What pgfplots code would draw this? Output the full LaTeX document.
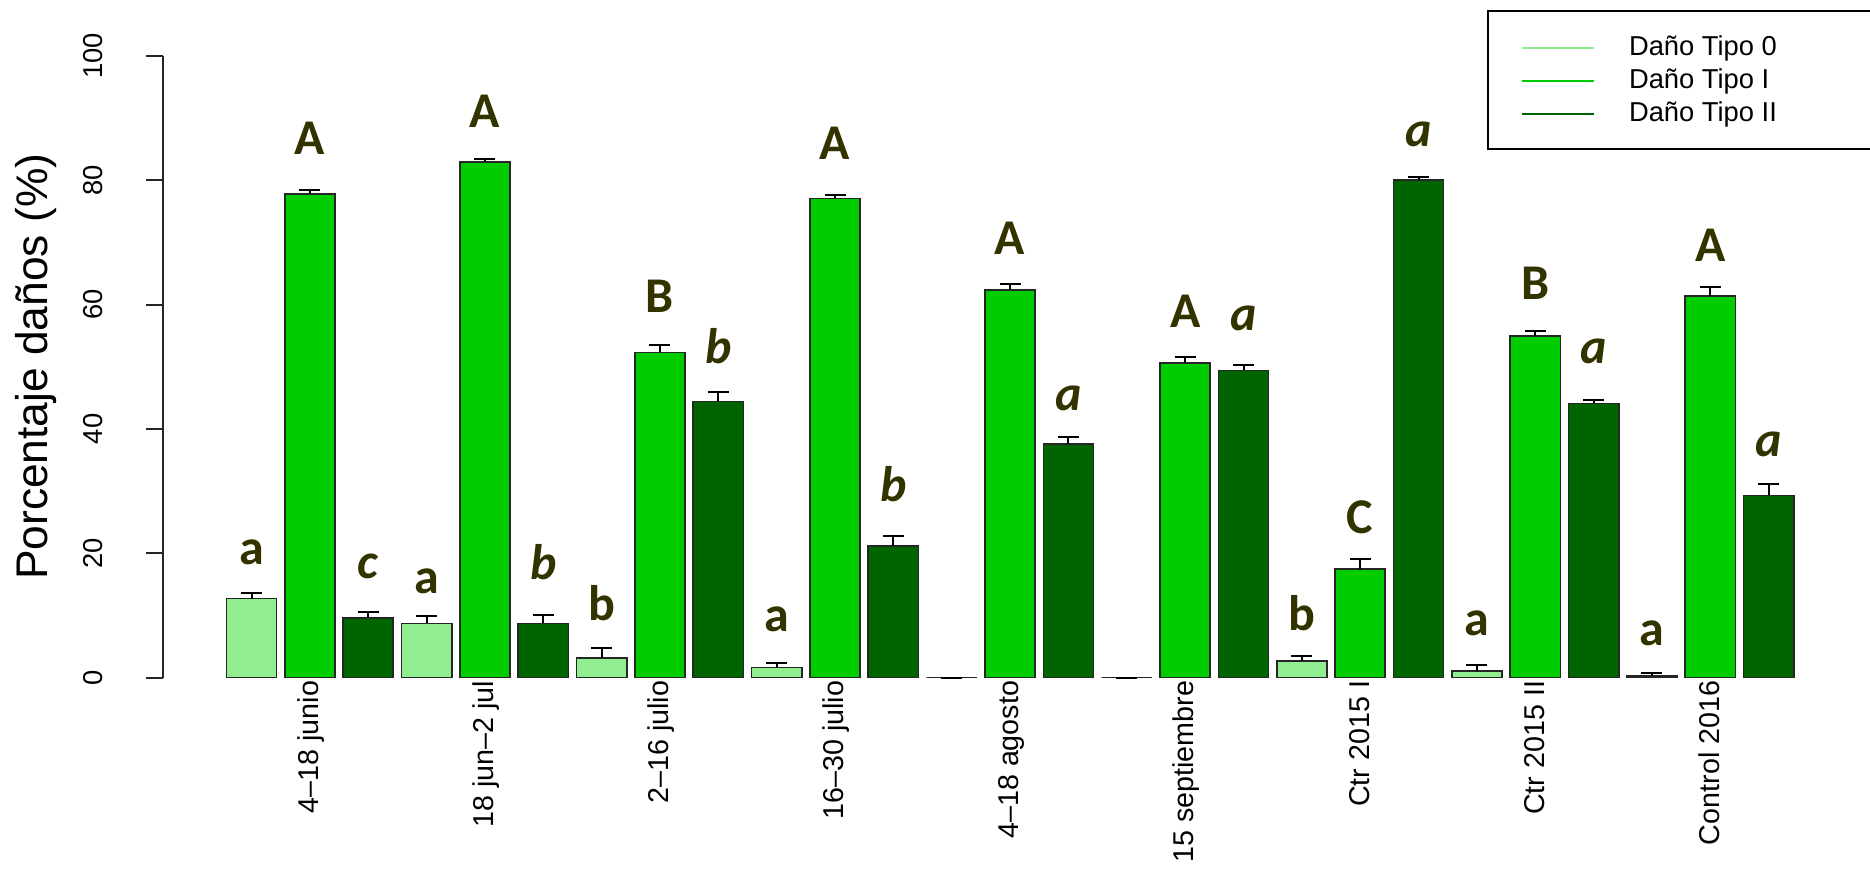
\documentclass[border=0pt]{standalone}
\usepackage{fontspec}
\setmainfont{Liberation Sans}
\newfontfamily\carlito{Carlito}
\usepackage{pgfplots}
\pgfplotsset{compat=1.18}
\usetikzlibrary{calc}
\definecolor{tipoO}{HTML}{90EE90}
\definecolor{tipoI}{HTML}{00CD00}
\definecolor{tipoII}{HTML}{006400}
\definecolor{lett}{HTML}{333300}
\begin{document}
\begin{tikzpicture}
\begin{axis}[
  scale only axis, width=492.2pt, height=186.45pt,
  xmin=-0.517, xmax=27.6, ymin=0, ymax=100,
  clip=false, enlargelimits=false,
  axis y line*=left, axis x line*=bottom,
  x axis line style={draw=none},
  y axis line style={line width=0.6pt, black!85},
  xtick={2,5,8,11,14,17,20,23,26},
  xticklabels={4–18 junio, 18 jun–2 jul, 2–16 julio, 16–30 julio, 4–18 agosto, 15 septiembre, Ctr 2015 I, Ctr 2015 II, Control 2016},
  xtick style={draw=none},
  ytick={0,20,40,60,80,100},
  ytick style={line width=0.6pt, black!85},
  tick align=outside, major tick length=5.1pt,
  /pgf/number format/assume math mode=true,
  yticklabel style={font=\fontsize{8.2}{9}\selectfont, xshift=-12.9pt, rotate=90, anchor=base, inner sep=0pt},
  xticklabel style={font=\fontsize{8.6}{10}\selectfont, yshift=4.3pt, rotate=90, anchor=mid east, inner sep=0pt},
  every axis y label/.style={at={(rel axis cs:0,0.5)}, xshift=-34.5pt, rotate=90, anchor=base, inner sep=0pt, font=\fontsize{13.3}{15}\selectfont},
  ylabel={Porcentaje daños (\%)},
  legend style={at={(0.807,1.074)}, anchor=north west, draw=black, line width=0.6pt, fill=white,
    inner xsep=9.9pt, inner ysep=6.7pt, column sep=10.2pt, row sep=1.9pt,
    font=\fontsize{8.2}{9}\selectfont, nodes={inner sep=0pt, text height=6.5pt, text depth=1.6pt}},
  legend cell align=left,
  legend image code/.code={\draw[#1] (0pt,-0.2pt) -- (21.6pt,-0.2pt);},
]
% Tipo 0
\addplot[ybar, bar width=0.86, bar shift=0pt, fill=tipoO, draw=black!85, line width=0.5pt, forget plot,
  error bars/.cd, y dir=plus, y explicit, error bar style={line width=0.6pt, black},
  error mark options={rotate=90, line width=0.6pt, black, mark size=3.15pt}]
coordinates {(1,12.7) +- (0,0.9) (4,8.7) +- (0,1.2) (7,3.1) +- (0,1.6) (10,1.6) +- (0,0.8)
  (13,0) +- (0,0) (16,0) +- (0,0) (19,2.7) +- (0,0.8) (22,1.1) +- (0,0.9) (25,0.2) +- (0,0.6)};
% Tipo I
\addplot[ybar, bar width=0.86, bar shift=0pt, fill=tipoI, draw=black!85, line width=0.5pt, forget plot,
  error bars/.cd, y dir=plus, y explicit, error bar style={line width=0.6pt, black},
  error mark options={rotate=90, line width=0.6pt, black, mark size=3.15pt}]
coordinates {(2,77.8) +- (0,0.6) (5,82.9) +- (0,0.6) (8,52.3) +- (0,1.2) (11,77.1) +- (0,0.6)
  (14,62.3) +- (0,1.0) (17,50.6) +- (0,0.9) (20,17.5) +- (0,1.5) (23,54.9) +- (0,0.9) (26,61.4) +- (0,1.5)};
% Tipo II
\addplot[ybar, bar width=0.86, bar shift=0pt, fill=tipoII, draw=black!85, line width=0.5pt, forget plot,
  error bars/.cd, y dir=plus, y explicit, error bar style={line width=0.6pt, black},
  error mark options={rotate=90, line width=0.6pt, black, mark size=3.15pt}]
coordinates {(3,9.6) +- (0,0.9) (6,8.7) +- (0,1.4) (9,44.4) +- (0,1.6) (12,21.2) +- (0,1.5)
  (15,37.6) +- (0,1.1) (18,49.4) +- (0,0.9) (21,80.0) +- (0,0.6) (24,44.1) +- (0,0.5) (27,29.3) +- (0,1.8)};
% letters
\addplot[forget plot, only marks, mark=none, nodes near coords, point meta=explicit symbolic,
  nodes near coords style={anchor=base, inner sep=0pt, text=lett, font=\carlito\bfseries\fontsize{15}{16}\selectfont}]
coordinates {(1,18.2)[a] (4,13.5)[a] (7,9.25)[b] (10,7.4)[a] (19,7.6)[b] (22,6.8)[a] (25,5.2)[a]};
\addplot[forget plot, only marks, mark=none, nodes near coords, point meta=explicit symbolic,
  nodes near coords style={anchor=base, inner sep=0pt, text=lett, font=\carlito\bfseries\fontsize{15}{16}\selectfont}]
coordinates {(2,84.1)[A] (5,88.5)[A] (8,58.8)[B] (11,83.4)[A] (14,68.1)[A] (17,56.3)[A] (20,23.1)[C] (23,60.8)[B] (26,66.9)[A]};
\addplot[forget plot, only marks, mark=none, nodes near coords, point meta=explicit symbolic,
  nodes near coords style={anchor=base, inner sep=0pt, text=lett, font=\carlito\bfseries\itshape\fontsize{15}{16}\selectfont}]
coordinates {(3,16.0)[c] (6,15.7)[b] (9,50.5)[b] (12,28.3)[b] (15,42.9)[a] (18,55.8)[a] (21,85.4)[a] (24,50.5)[a] (27,35.6)[a]};
\addlegendimage{tipoO, line width=0.6pt}
\addlegendentry{Daño Tipo 0\hspace*{60pt}}
\addlegendimage{tipoI, line width=0.6pt}
\addlegendentry{Daño Tipo I}
\addlegendimage{tipoII, line width=0.6pt}
\addlegendentry{Daño Tipo II}
\end{axis}
\pgfresetboundingbox
\path[use as bounding box] ($(current axis.south west)+(-48.9pt,-57.45pt)$) rectangle ($(current axis.south west)+(512.1pt,203.25pt)$);
\end{tikzpicture}
\end{document}
